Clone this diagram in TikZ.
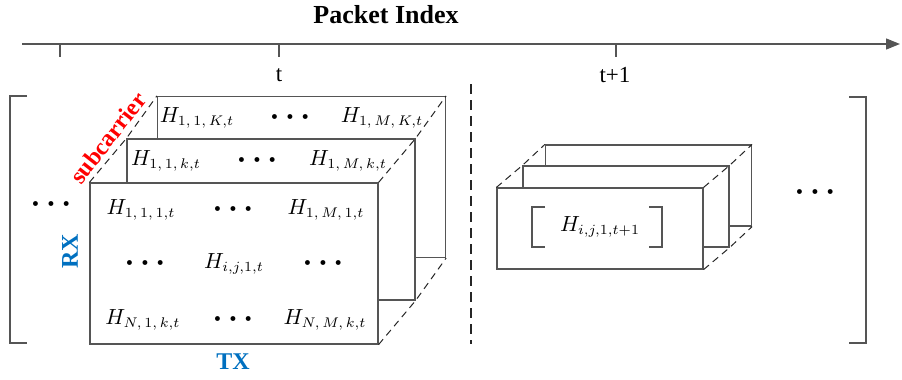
\documentclass[tikz,border=0pt]{standalone}
\usepackage{fontspec}
\setmainfont{Liberation Serif}
\usetikzlibrary{positioning,arrows.meta}
\definecolor{edgegray}{HTML}{555555}
\definecolor{rxblue}{HTML}{0070C0}
\definecolor{subred}{HTML}{FF0000}
\newcommand{\tridots}{{\tiny$\bullet$\hspace{4pt}$\bullet$\hspace{4pt}$\bullet$}}

\begin{document}
\begin{tikzpicture}[x=0.5pt,y=-0.5pt,
    layer/.style={draw=edgegray, fill=white, line width=0.6pt, inner sep=0pt,
                  minimum width=144pt, minimum height=80.5pt},
    slab/.style={layer, minimum width=103pt, minimum height=40.5pt},
    depth/.style={draw=black!85, dash pattern=on 3.5pt off 2.5pt, line width=0.5pt},
    entry/.style={font=\fontsize{10.5}{12}\selectfont, inner sep=1pt},
    tag/.style={font=\bfseries\fontsize{12}{14}\selectfont, inner sep=0pt},
    tick/.style={font=\fontsize{11.5}{13}\selectfont, inner sep=1pt},
  ]
    \useasboundingbox (0,0) rectangle (902,380);

    % time axis on top
    \node[font=\bfseries\fontsize{13}{15}\selectfont] (title) at (386,15) {Packet Index};
    \coordinate (ax0) at (22,44);
    \coordinate (ax1) at (900,44);
    \draw[edgegray, line width=0.7pt, -{Triangle[length=7pt,width=5.5pt]}] (ax0) -- (ax1);
    \foreach \x in {60,279,616}
      \draw[edgegray, line width=0.6pt] (\x,44) -- (\x,57);
    \node[tick] (tnow) at (279,75) {t};
    \node[tick] (tnext) at (615,75) {t+1};

    % outer brackets and the packet divider
    \draw[edgegray, line width=0.7pt] (27,96) -- (10,96) -- (10,343) -- (27,343);
    \draw[edgegray, line width=0.7pt] (849,97) -- (866,97) -- (866,343) -- (849,343);
    \draw[black!85, line width=0.8pt, dash pattern=on 5pt off 3pt] (471,84) -- (471,344);

    % packet t: one matrix per subcarrier
    \node[layer] (bk) at (301.5,177) {};
    \node[layer] (md) at (271,219.5) {};
    \node[layer] (fr) at (234,263.5) {};
    \draw[depth] (fr.north west) -- (md.north west) -- (bk.north west);
    \draw[depth] (fr.north east) -- (md.north east) -- (bk.north east);
    \draw[depth] (fr.south east) -- (md.south east) -- (bk.south east);

    \node[entry] (bk1) at (197,118) {$H_{1,\,1,\,K,t}$};
    \node[entry] (bk2) at (290,117) {\tridots};
    \node[entry] (bk3) at (382,118) {$H_{1,\,M,\,K,t}$};
    \node[entry] (md1) at (166,161) {$H_{1,\,1,\,k,t}$};
    \node[entry] (md2) at (257,160) {\tridots};
    \node[entry] (md3) at (348,161) {$H_{1,\,M,\,k,t}$};
    \node[entry] (f11) at (141,210) {$H_{1,\,1,\,1,t}$};
    \node[entry] (f12) at (233,209) {\tridots};
    \node[entry] (f13) at (326,210) {$H_{1,\,M,\,1,t}$};
    \node[entry] (f21) at (145,263) {\tridots};
    \node[entry] (f22) at (234,264) {$H_{i,j,1,t}$};
    \node[entry] (f23) at (323,263) {\tridots};
    \node[entry] (f31) at (143,320) {$H_{N,\,1,\,k,t}$};
    \node[entry] (f32) at (233,319) {\tridots};
    \node[entry] (f33) at (325,320) {$H_{N,\,M,\,k,t}$};

    \node[tag, text=subred, rotate=52] (sub) at (108,138) {subcarrier};
    \node[tag, text=rxblue, rotate=90] (rx) at (70,251) {RX};
    \node[tag, text=rxblue] (tx) at (233,362) {TX};
    \node[entry] (ldots) at (51,204) {\tridots};

    % packet t+1
    \node[slab] (rbk) at (648.5,185.5) {};
    \node[slab] (rmd) at (626,206.5) {};
    \node[slab] (rfr) at (600,228.5) {};
    \draw[depth] (rfr.north west) -- (rmd.north west) -- (rbk.north west);
    \draw[depth] (rfr.north east) -- (rmd.north east) -- (rbk.north east);
    \draw[depth] (rfr.south east) -- (rmd.south east) -- (rbk.south east);
    \node[entry] (hnext) at (600,227) {$H_{i,j,1,t+1}$};
    \draw[edgegray, line width=0.6pt] (545,207) -- (532,207) -- (532,247) -- (545,247);
    \draw[edgegray, line width=0.6pt] (649,207) -- (662,207) -- (662,247) -- (649,247);
    \node[entry] (rdots) at (815,192) {\tridots};
  \end{tikzpicture}
\end{document}
